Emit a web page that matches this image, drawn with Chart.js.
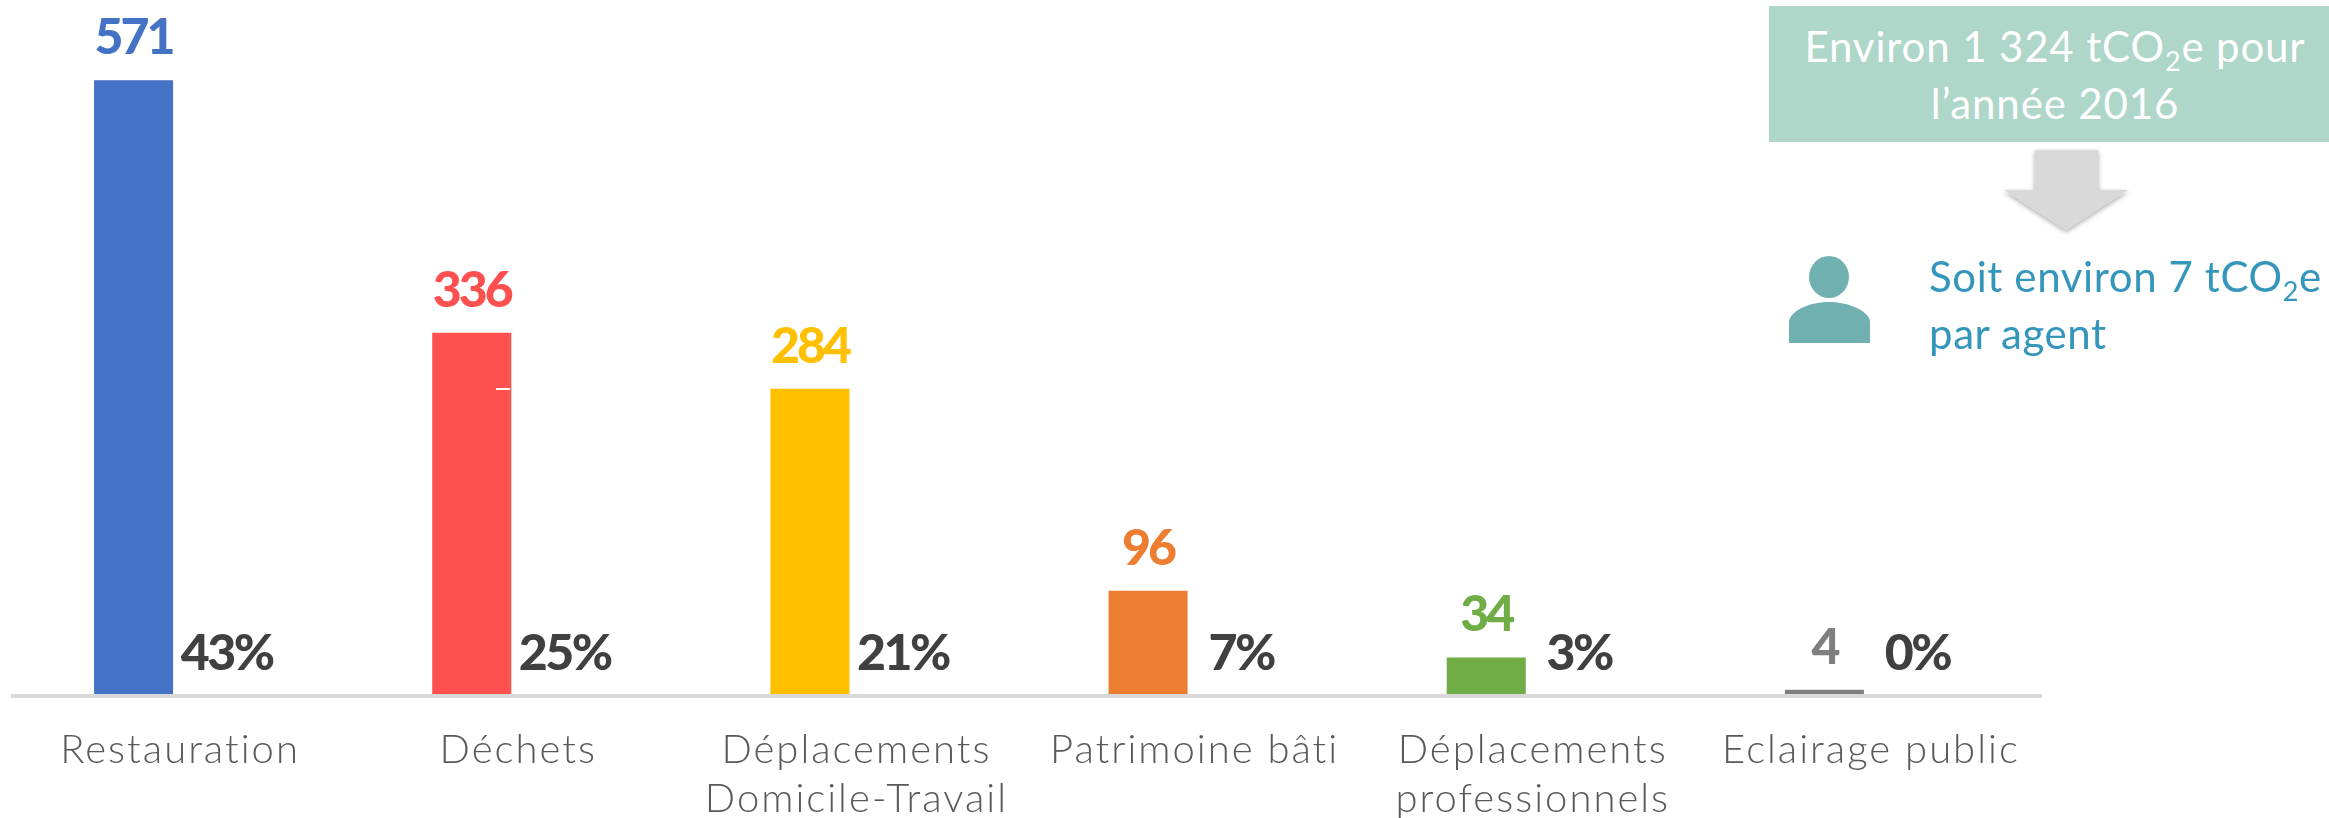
<!DOCTYPE html>
<html lang="fr">
<head>
<meta charset="utf-8">
<title>Bilan carbone</title>
<script src="https://cdn.jsdelivr.net/npm/chart.js@4"></script>
<style>
html,body{margin:0;padding:0;background:#fff;width:2329px;height:818px;overflow:hidden}
#wrap{position:relative;width:2329px;height:818px}
canvas{position:absolute;left:0;top:0}
.box{position:absolute;left:1769px;top:6px;width:560px;height:136px;background:#aed6c9}
.t{position:absolute;white-space:nowrap;font-family:Lato,sans-serif;font-weight:400;font-size:42px;line-height:44px}
.t sub{font-size:27px;line-height:0;vertical-align:-9px}
.w{color:#fff;letter-spacing:0.85px;text-align:center;left:1775px;width:560px}
.b{color:#3596bb;left:1929px;letter-spacing:0.6px}
svg{position:absolute;left:0;top:0}
.nick{position:absolute;left:496px;top:388px;width:14px;height:2px;background:#fff}
</style>
</head>
<body>
<div id="wrap">
<canvas id="c" width="2329" height="818"></canvas>
<div class="nick"></div>
<div class="box"></div>
<div class="t w" style="top:24px">Environ 1 324 tCO<sub>2</sub>e pour</div>
<div class="t w" style="top:81px">l’année 2016</div>
<svg width="2329" height="818">
<defs><filter id="sh" x="-20%" y="-20%" width="140%" height="140%"><feDropShadow dx="0" dy="2" stdDeviation="2.5" flood-color="#000" flood-opacity=".35"/></filter></defs>
<polygon points="2035,150 2098,150 2098,190 2128,190 2066,230 2004,190 2035,190" fill="#d9d9d9" filter="url(#sh)"/>
<ellipse cx="1829" cy="277" rx="20" ry="21" fill="#70b0b0"/>
<path d="M1789 343 V322 C1789 312 1808 302 1829 302 C1850 302 1870 312 1870 322 V343 Z" fill="#70b0b0"/>
</svg>
<div class="t b" style="top:254px">Soit environ 7 tCO<sub>2</sub>e</div>
<div class="t b" style="top:311px">par agent</div>
</div>
<script>
const categories = [["Restauration"],["Déchets"],["Déplacements","Domicile-Travail"],["Patrimoine bâti"],["Déplacements","professionnels"],["Eclairage public"]];
const emissions = [571,336,284,96,34,4];
const shares = [0.43,0.25,0.21,0.07,0.03,0];
const barColors = ["#4472c4","#ff5050","#ffc000","#ed7d31","#70ad47","#7f7f7f"];
const shareColor = "#404040";
const axisColor = "#d9d9d9";
const tickColor = "#595959";

const axisAndLabels = {
  id:"axisAndLabels",
  beforeDraw(chart){ chart.ctx.letterSpacing = "2px"; },
  beforeDatasetsDraw(chart){
    const {ctx,chartArea:a}=chart;
    ctx.save(); ctx.fillStyle=axisColor; ctx.fillRect(a.left,a.bottom,a.right-a.left+2,4); ctx.restore();
  },
  afterDatasetsDraw(chart){
    const ctx=chart.ctx;
    ctx.save();
    ctx.textAlign="center"; ctx.textBaseline="alphabetic";
    ctx.font="900 50px Lato, sans-serif";
    ctx.letterSpacing="-3px";
    chart.getDatasetMeta(0).data.forEach((el,i)=>{
      ctx.fillStyle=barColors[i];
      ctx.fillText(String(emissions[i]),el.x,el.y-26);
    });
    ctx.letterSpacing="-2.5px";
    chart.getDatasetMeta(1).data.forEach((el,i)=>{
      ctx.fillStyle=shareColor;
      ctx.fillText(Math.round(shares[i]*100)+"%",el.x,el.y-24);
    });
    ctx.restore();
  }
};

new Chart(document.getElementById("c"),{
  type:"bar",
  data:{labels:categories,datasets:[
    {label:"tCO2e",data:emissions,backgroundColor:barColors,categoryPercentage:0.55,barPercentage:0.85},
    {label:"Part",data:shares,backgroundColor:"rgba(0,0,0,0)",categoryPercentage:0.55,barPercentage:0.85}
  ]},
  options:{
    responsive:false,animation:false,
    layout:{autoPadding:false,padding:{left:11,right:289,top:49,bottom:0}},
    plugins:{legend:{display:false},tooltip:{enabled:false},title:{display:false}},
    scales:{
      x:{
        grid:{display:false},border:{display:false},
        afterFit(s){s.height=124;},
        ticks:{autoSkip:false,maxRotation:0,minRotation:0,padding:24,color:tickColor,font:{family:"Lato, sans-serif",size:40,weight:"300",lineHeight:1.225}}
      },
      y:{display:false,min:0,max:600}
    }
  },
  plugins:[axisAndLabels]
});
</script>
</body>
</html>
